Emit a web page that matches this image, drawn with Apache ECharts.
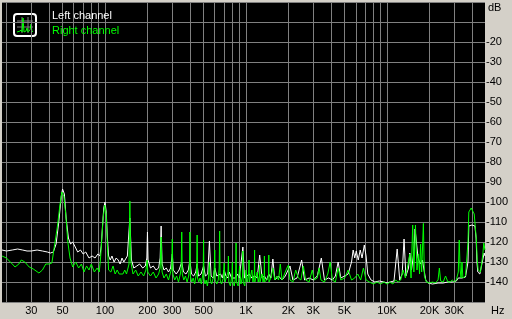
<!DOCTYPE html>
<html><head><meta charset="utf-8">
<script src="https://cdn.jsdelivr.net/npm/echarts@6/dist/echarts.min.js"></script>
<style>html,body{margin:0;padding:0;background:#D4D0C8;}#c{width:512px;height:319px;}</style>
</head><body><div id="c"></div>
<script>
// Frequency (Hz) / level (dB) pairs
const leftChannel = [
[18.6,-124],[20,-124.5],[22,-124],[24,-123.5],[26,-124],[28,-124.5],[30,-124.5],[33,-124],[36,-124.5],[39,-125],[41,-125.5],[43,-125],[45,-121],[47,-110],[49,-97],[50,-93.5],[51.5,-96],[53,-108],[55,-118],[57,-121],[59,-120],[61,-122],[64,-125],[67,-124],[70,-126],[73,-125],[77,-128],[81,-127],[85,-128],[89,-126],[92,-127],[94,-122],[96,-112],[98,-103],[100,-100],[102,-105],[104,-118],[106,-127],[109,-129],[112,-127],[116,-130],[120,-128],[124,-129],[128,-131],[132,-128],[136,-130],[140,-129],[144,-127],[146,-128],[150,-108],[154,-129],[160,-133],[168,-132],[176,-131],[185,-133],[193,-132],[198,-128],[200,-115],[202,-129],[210,-133],[220,-132],[230,-134],[240,-133],[246,-128],[250,-112],[254,-131],[262,-134],[272,-133],[282,-135],[292,-133],[300,-126],[305,-134],[320,-136],[335,-134],[350,-130],[360,-135],[375,-136],[390,-134],[400,-129],[410,-136],[425,-137],[440,-135],[450,-131],[460,-137],[480,-136],[500,-132],[515,-137],[535,-136],[550,-119.5],[565,-137],[585,-138],[600,-133],[620,-137],[640,-138],[660,-136],[680,-138],[700,-134],[720,-137],[745,-138],[760,-135],[790,-138],[810,-137],[840,-138],[870,-136],[895,-138],[920,-137],[950,-122.5],[975,-138],[1000,-139],[1050,-136],[1100,-138],[1150,-137],[1200,-138],[1250,-126.5],[1300,-138],[1350,-137],[1400,-139],[1450,-136],[1500,-138],[1550,-128.5],[1600,-139],[1700,-137],[1800,-139],[1900,-137],[2050,-132],[2150,-139],[2300,-138],[2480,-129],[2600,-139],[2800,-138],[3000,-139],[3200,-137],[3420,-128],[3600,-139],[3850,-138],[4100,-139],[4300,-137],[4500,-130],[4700,-138],[5000,-137],[5300,-136],[5600,-130],[5750,-124],[5900,-128],[6050,-124.5],[6250,-129],[6450,-124],[6650,-128],[6900,-121.5],[7100,-127],[7300,-136],[7700,-139],[8200,-140],[8800,-139.5],[9500,-140],[10000,-140.5],[10500,-140],[11200,-139.5],[11800,-123.5],[12300,-139],[12800,-136],[13200,-118.5],[13600,-137],[14200,-133],[14500,-125.5],[14900,-134],[15500,-125],[15800,-113.5],[16200,-113],[16600,-128],[17200,-131],[17800,-129],[18300,-134],[18800,-139],[19500,-140.5],[21000,-141],[23000,-140.5],[25000,-140.5],[27000,-140],[29000,-140],[31000,-139.5],[32000,-138],[34000,-138],[36000,-137.5],[37500,-130],[38000,-112],[39000,-111],[40000,-111.5],[41000,-110.5],[42000,-112],[42800,-118],[43400,-130],[44000,-135],[45500,-136],[47000,-135.5],[48000,-128],[48800,-125.5],[49500,-127]
];
const rightChannel = [
[18.6,-127],[20,-128],[22,-131],[23,-132.5],[24.5,-131],[25.5,-129],[27,-130],[29,-132.5],[31,-133.5],[34,-135.5],[36,-134],[38,-131],[40,-131],[42,-130.5],[44,-121],[46,-112],[48,-101],[49.5,-95],[51,-97],[52.5,-105],[54.5,-120],[56.5,-128],[59,-132.5],[62,-130],[65,-133],[68,-131],[71,-135],[74,-132],[77,-134],[80,-131],[84,-135],[88,-133],[91,-135],[93,-128],[95,-118],[97,-108],[99.5,-101.5],[102,-106],[104,-122],[106,-134],[110,-135],[114,-132],[118,-136],[122,-134],[126,-136],[130,-135],[134,-136],[138,-134],[142,-136],[146,-135],[148,-131],[150,-99.5],[152.5,-130],[158,-136],[165,-134],[172,-137],[180,-135],[188,-137],[195,-134],[199,-129],[201,-135],[210,-137],[220,-135],[230,-138],[240,-136],[246,-133],[250,-117.5],[254,-135],[262,-138],[272,-136],[282,-139],[292,-135],[297,-133],[300,-118.5],[303,-136],[312,-139],[322,-137],[332,-140],[342,-136],[347,-133],[350,-115],[353,-136],[362,-139],[372,-137],[382,-140],[392,-137],[397,-132],[400,-115],[403,-137],[412,-140],[422,-138],[432,-141],[442,-137],[447,-134],[450,-116.5],[453,-138],[462,-140],[472,-138],[482,-141],[492,-137],[497,-134],[500,-119],[503,-138],[512,-141],[522,-139],[532,-142],[542,-138],[550,-130],[558,-139],[570,-141],[585,-138],[595,-134],[600,-124],[605,-139],[620,-141],[635,-139],[645,-133],[650,-114.5],[655,-139],[670,-141],[690,-138],[700,-130.5],[710,-140],[730,-141],[745,-135],[750,-127],[755,-140],[775,-142],[795,-136],[800,-130],[805,-140],[825,-142],[845,-137],[850,-120.5],[855,-140],[880,-142],[900,-132],[920,-141],[945,-137],[950,-124.5],[955,-140],[980,-142],[1000,-134],[1020,-140],[1045,-136],[1050,-129],[1055,-140],[1080,-141],[1100,-134],[1120,-140],[1145,-136],[1150,-124],[1155,-140],[1180,-141],[1200,-135],[1220,-140],[1245,-137],[1250,-131.5],[1255,-140],[1280,-141],[1300,-136],[1320,-140],[1345,-137],[1350,-127],[1355,-140],[1400,-139],[1445,-137],[1450,-126.5],[1455,-140],[1500,-138],[1550,-133],[1600,-139],[1650,-137],[1700,-139],[1750,-131],[1800,-139],[1850,-140],[1950,-133],[2000,-131.5],[2050,-139],[2150,-140],[2250,-134],[2350,-138],[2450,-139],[2550,-132],[2650,-139],[2800,-140],[2950,-134],[3050,-139],[3200,-138],[3300,-133],[3400,-139],[3600,-140],[3800,-136],[3950,-130],[4100,-139],[4300,-140],[4500,-133],[4700,-139],[5000,-138],[5300,-134],[5600,-139],[5900,-138],[6200,-136],[6500,-139],[6800,-133],[7100,-139],[7500,-140],[8000,-141],[8500,-140],[9000,-141],[9500,-140],[10000,-141],[10500,-140],[11000,-141],[11500,-139],[12000,-140],[12500,-139],[13000,-134],[13500,-138],[14000,-132],[14500,-126],[14800,-138],[15200,-111.5],[15500,-135],[15900,-111.5],[16300,-134],[16700,-126],[17000,-136],[17300,-121],[17600,-135],[18100,-110.7],[18400,-137],[19000,-140],[20000,-140.5],[21000,-140],[22000,-140.5],[23000,-139],[23500,-133],[24000,-139.5],[25000,-140],[26000,-137],[27000,-140],[28000,-140],[29000,-139],[30000,-140],[31000,-139],[32000,-135],[32500,-119],[33000,-134],[33500,-138],[34000,-130],[34500,-138],[35000,-137.5],[36000,-137],[37000,-136],[37500,-120],[38000,-105],[38800,-106],[39500,-103],[40500,-104],[41500,-106],[42300,-107],[43000,-119],[43600,-129],[44300,-134],[45000,-135],[46000,-135],[47000,-134.5],[47800,-126],[48500,-120.5],[49500,-124]
];
const freqLabels = [30,50,100,200,300,500,1000,2000,3000,5000,10000,20000,30000];
const freqGrid = [20,30,40,50,60,70,80,90,100,200,300,400,500,600,700,800,900,1000,2000,3000,4000,5000,6000,7000,8000,9000,10000,20000,30000,40000];
const dbLabels = [-20,-30,-40,-50,-60,-70,-80,-90,-100,-110,-120,-130,-140];
const seriesNames = ['Left channel','Right channel'];
const freqMin = 18.6, freqMax = 49500, dbMin = -150, dbMax = 0;

const lg = v => Math.log10(v);
const toLog = arr => arr.map(p => [lg(p[0]), p[1]]);
const fmtHz = v => { const f = Math.round(Math.pow(10, v)); return f >= 1000 ? (f/1000) + 'K' : String(f); };

const chart = echarts.init(document.getElementById('c'), null, {renderer:'canvas'});
const font = 'Liberation Sans';
chart.setOption({
  animation:false,
  backgroundColor:'#D4D0C8',
  grid:{left:2, top:2, width:483, height:300, show:true, backgroundColor:'#000000', borderWidth:0},
  legend:{
    left:42, top:4, orient:'vertical', icon:'none', itemWidth:0, itemHeight:14, itemGap:2,
    selectedMode:false,
    data:[{name:seriesNames[0], textStyle:{color:'#FFFFFF'}},{name:seriesNames[1], textStyle:{color:'#00FF00'}}],
    textStyle:{fontFamily:font, fontSize:11, padding:0}
  },
  xAxis:{
    type:'value', min:lg(freqMin), max:lg(freqMax),
    axisLine:{show:false},
    axisTick:{show:false, customValues:freqGrid.map(lg)},
    splitLine:{show:true, lineStyle:{color:'#808080', width:1}},
    axisLabel:{customValues:freqLabels.map(lg), formatter:fmtHz, color:'#000', fontFamily:font, fontSize:11, margin:3, showMinLabel:true, showMaxLabel:true}
  },
  yAxis:{
    type:'value', position:'right', min:dbMin, max:dbMax, interval:10,
    axisLine:{show:false}, axisTick:{show:false},
    splitLine:{show:true, lineStyle:{color:'#808080', width:1}},
    axisLabel:{customValues:dbLabels, color:'#000', fontFamily:font, fontSize:11, margin:1, align:'left'}
  },
  graphic:[
    {type:'text', left:488, top:2, style:{text:'dB', fill:'#000', font:'11px "Liberation Sans"'}},
    {type:'text', left:491, top:305, style:{text:'Hz', fill:'#000', font:'11px "Liberation Sans"'}},
    {type:'group', left:13, top:13, children:[
      {type:'rect', shape:{x:0,y:0,width:22,height:22,r:3}, style:{fill:'#000', stroke:'#fff', lineWidth:2}},
      {type:'polyline', shape:{points:[[3,7],[19,7]]}, style:{stroke:'#808080', lineWidth:1}},
      {type:'polyline', shape:{points:[[3,13],[19,13]]}, style:{stroke:'#808080', lineWidth:1}},
      {type:'polyline', shape:{points:[[8,3],[8,19]]}, style:{stroke:'#808080', lineWidth:1}},
      {type:'polyline', shape:{points:[[14,3],[14,19]]}, style:{stroke:'#808080', lineWidth:1}},
      {type:'polyline', shape:{points:[[3,18],[6,17],[7,16],[8,18],[9,4],[10,18],[12,17],[13,14],[14,18],[16,16],[17,10],[18,18],[19,17]]}, style:{stroke:'#00FF00', fill:null, lineWidth:1}}
    ]}
  ],
  series:[
    {name:seriesNames[0], type:'line', data:toLog(leftChannel), symbol:'none', lineStyle:{color:'#FFFFFF', width:1}, itemStyle:{color:'#FFFFFF'}, z:2},
    {name:seriesNames[1], type:'line', data:toLog(rightChannel), symbol:'none', lineStyle:{color:'#00FF00', width:1}, itemStyle:{color:'#00FF00'}, z:3}
  ]
});
</script></body></html>
